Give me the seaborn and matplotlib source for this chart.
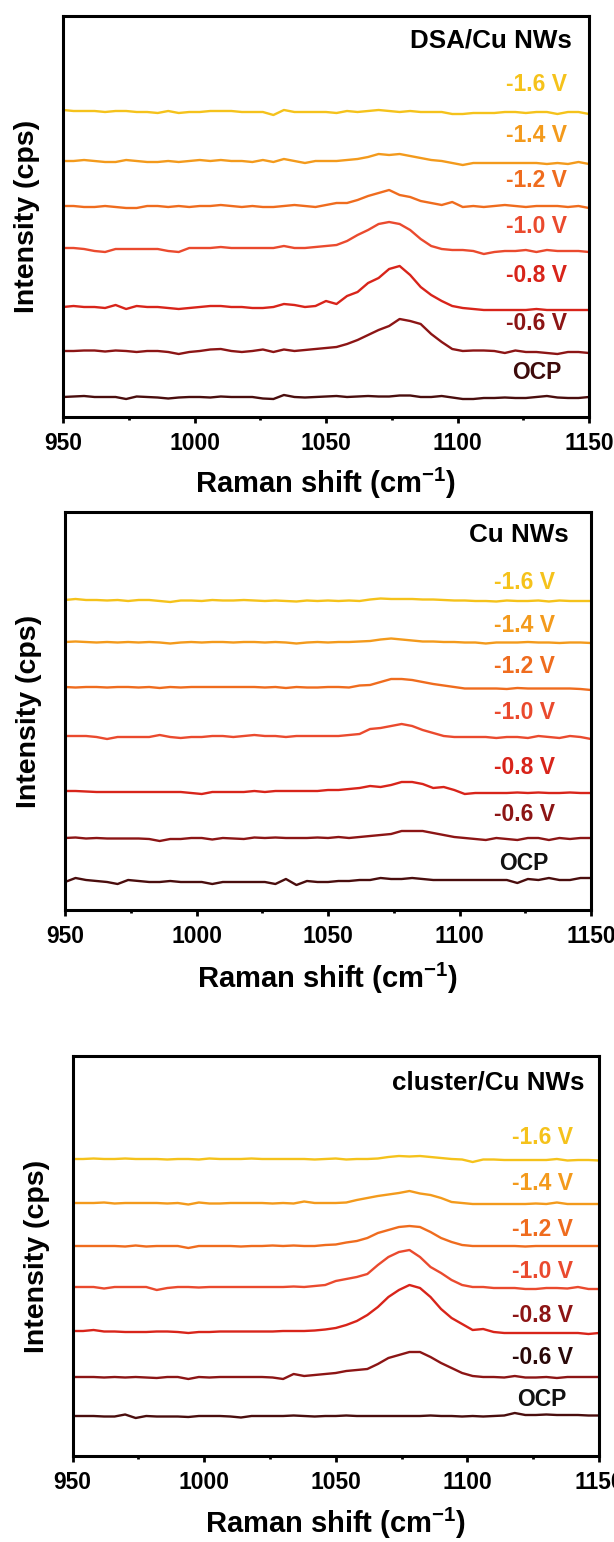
import numpy as np
import pandas as pd
import matplotlib
matplotlib.use("Agg")
import matplotlib.pyplot as plt
import seaborn as sns
from matplotlib.ticker import MultipleLocator

# ---------------- data ----------------
shift = np.arange(950, 1151, 4)  # Raman shift grid (cm-1)
potentials = ["OCP", "-0.6 V", "-0.8 V", "-1.0 V", "-1.2 V", "-1.4 V", "-1.6 V"]
line_colors = ["#4a0d0d", "#8c1515", "#d8241a", "#ea4a2e", "#ef6c1e", "#f39a1c", "#f5c21b"]

# DSA/Cu NWs (relative intensity, a.u.)
dsa_ocp = [0, 0.5, 1, 0, 0, 0, -2, 0.5, 0, -0.5,
           -1.5, -0.5, 0, 0, -0.5, 0.5, 0, 0, 0, -1.5,
           -2, 2, 0, -0.5, 0, 0.5, 1, 0, 0.5, 1,
           0.5, 0.5, 1.5, 1.5, 0, 0, 1, -0.5, -2, -2,
           -1, -1, -0.5, -1, -1, 0, 1, -0.5, -1, -1,
           0]
dsa_06 = [0, 0, 0.5, 0.5, -0.5, 0.5, 0, -1, 0, 0,
          -1, -3, -1, 0, 1.5, 2, 0, -1, 0, 1.5,
          -1, 1.5, 0, 1, 2, 3, 4, 7, 11, 16,
          21, 25, 32, 30, 27, 17, 9, 2, 0, 0.5,
          0.5, 0, -2, 0.5, -1, -1, -2, -3, -1, -1,
          -2]
dsa_08 = [0, 1, 0, 0, -1, 2, -2, 1, 0, 0,
          -1, -2, -1, 0, 1, 1, 0, 0, -1, -1,
          0, 3, 2, 0, 1, 6, 3, 11, 15, 24,
          29, 38, 41, 32, 20, 12, 6, 1, -1, -2,
          -3, -3, -3, -3, -3, -2, -3, -3, -3, -3,
          -3]
dsa_10 = [0, 0, -1, -3, -4, -1, -1, -1, -1, -1,
          -3, -4, 0, 0, 0, 1, 0, 0, 0, 0,
          0, 2, 0, 0, 1, 2, 3, 7, 13, 18,
          24, 26, 24, 18, 9, 2, -1, -2, -2, -3,
          -6, -4, -3, -3, -2, -4, -2, -3, -3, -3,
          -4]
dsa_12 = [0, 0, -1, -1, 0, -1, -2, -2, 0, 0,
          -1, 0, -1, 0, 0, 1, 0, -1, 0, -1,
          -1, 0, 1, 0, -1, 1, 3, 3, 6, 10,
          13, 16, 11, 9, 5, 3, 1, 4, -1, 0,
          -1, 0, 1, 0, -1, 0, 0, 0, -1, 0,
          -2]
dsa_14 = [0, 0, 1, 0, -1, -1, 1, 0, -1, -1,
          0, -1, 0, 1, 0, 1, 0, 0, -1, 1,
          -1, 2, 0, -2, 0, 0, 0, 1, 2, 4,
          7, 6, 7, 5, 3, 1, 0, -2, -4, -2,
          -2, -2, -2, -2, -2, -2, -3, -2, -3, -1,
          -3]
dsa_16 = [0, -1, -1, -1, -2, -1, -1, -2, -2, -3,
          -1, -3, -2, -2, -1, -1, -1, -2, -2, -2,
          -5, 0, -2, -2, -2, -2, -3, -1, -2, -1,
          0, -1, -2, -1, -2, -2, -2, -4, -4, -3,
          -3, -3, -2, -2, -3, -2, -2, -4, -2, -2,
          -4]
dsa_offsets = [20, 66, 110, 169, 211, 256, 307]

# Cu NWs
cu_ocp = [0, 4, 2, 1, 0, -2, 2, 1, 0, 0,
          1, 0, 0, 0, -2, 0, 0, 0, 0, 0,
          -2, 3, -3, 1, 0, 0, 1, 1, 2, 2,
          4, 3, 3, 4, 3, 2, 2, 2, 2, 2,
          2, 2, 2, -1, 3, 2, 4, 2, 2, 4,
          4]
cu_06 = [0, 0.5, -0.5, 0, -0.5, -0.5, -0.5, -0.5, -1, -3,
         -1, -1, 0, 0, -1.5, 0, -0.5, -1, 0.5, 0,
         0.5, 0, 0, 0, 0.5, 0, 1, 0, 1, 2,
         3, 4, 7, 7, 7, 5, 3, 1, 0, -1,
         -2, 0, -1, -2, 0, 0, -2, 0, -1, 0,
         0]
cu_08 = [0, 0, -0.5, -1, -1, -1, -1, -1, -1, -1,
         -1, -1, -2, -3, -1, -1, -1, -1, 0, -1,
         0, 0, 0, 0, 0, 1, 1, 2, 3, 5,
         4, 6, 9, 9, 7, 3, 4, 1, -3, -2,
         -2, -2, -2, -1.5, -2, -1.5, -2, -2, -1.5, -2,
         -2]
cu_10 = [0, 0, 0, -1, -3, -1, -1, -1, -1, 1,
         -1, -2, -1, -1, 0, 0, -1, 0, 1, 0,
         0, -1, 0, 0, 0, 0, 0, 1, 2, 7,
         8, 10, 12, 10, 6, 3, 0, -1, -1, -1,
         -1, -2, -1, -1, -2, 0, -1, -2, 0, -1,
         -3]
cu_12 = [0, -0.5, 0, 0, -0.5, 0, 0, -0.5, 0, -1,
         0, -0.5, 0, 0, 0, 0, 0, 0, 0, -0.5,
         0, -1, 0, -0.5, -0.5, 0, 0, -0.5, 1.5, 2,
         5, 8, 8, 7, 5, 3, 1.5, 0, -1.5, -1.5,
         -1.5, -1.5, -2, -1, -1.5, -1.5, -1.5, -1.5, -1.5, -2,
         -3]
cu_14 = [0, 0.5, 0, -0.5, 0, -0.5, 0, -0.5, 0, -0.5,
         -1.5, -0.5, 0, -0.5, 0, 0, -0.5, 0, 0, -0.5,
         0, -0.5, -1.5, -0.5, 0, -0.5, 0, 0, 0.5, 1,
         2.5, 3.5, 2.5, 1.5, 0.5, 0.5, 0, 0, -0.5, -0.5,
         -1.5, -0.5, -0.5, -0.5, 0, -0.5, -0.5, -1, -0.5, -0.5,
         -1]
cu_16 = [0, 1, 0, 0, -0.5, 0, -1, 0, 0, -1,
         -2, -0.5, -0.5, -1, 0, -0.5, -0.5, 0, -0.5, -1,
         -0.5, -1, -1.5, -0.5, -1, -0.5, -1, -0.5, -1, 0.5,
         1.5, 1, 1, 1, 0.5, 0.5, 0, -0.5, -0.5, -1,
         -1, -1.5, -0.5, -1, -1, -0.5, -1.5, -0.5, -1, -1,
         -1]
cu_offsets = [28, 72, 119, 174, 223, 268, 310]

# cluster/Cu NWs
cl_ocp = [0, 0, 0, -0.5, -0.5, 1.5, -2, 0, -0.5, -0.5,
          -0.5, -1, 0, 0, 0, -0.5, -1.5, 0, 0, 0,
          0, 0.5, 0, -0.5, 0, 0, 0.5, 0, 0, 0,
          0, 0, 0, 0, 0.5, 0, 0, -0.5, 0, -0.5,
          0, 0.5, 3, 1, 1, 1.5, 1, 1, 1, 0.5,
          0.5]
cl_06 = [0, 0, 0, -0.5, 0, -0.5, 0, -0.5, -1, 0,
         0, -2, 0, -0.5, 0, 0, 0, 0, 0, -0.5,
         -2, 3, 1, 2, 3, 4, 6, 7, 8, 13,
         19, 22, 25, 25, 20, 14, 9, 4, 1, 0,
         0, -0.5, 1, -0.5, -0.5, 0, -1, 0, 0, 0,
         0]
cl_08 = [0, 0, 1, -0.5, -0.5, -1, -1, -1, -0.5, -0.5,
         -1, -2, -1, -1, -0.5, -0.5, -0.5, -0.5, -0.5, -0.5,
         0, 0, 0, 0.5, 1.5, 3, 6, 10, 16, 24,
         34, 41, 46, 43, 34, 22, 13, 7, 1, 2,
         -1, -2, -2, -2, -2, -2, -2, -2, -2, -3,
         -2]
cl_10 = [0, 0, 0, -1.5, 0, 0, 0, 0, -3, -1,
         0, 0, -0.5, 0, 0, 0, 0, 0, 0, 0,
         0, 0.5, 0, 1, 2, 6, 8, 10, 13, 22,
         30, 35, 37, 30, 20, 14, 7, 2, 0, 0,
         -1, -1, -1, -2, -2, -1, -1, -1.5, 0, -2,
         -2]
cl_12 = [0, 0, 0, 0, 0, -0.5, 0.5, -0.5, 0, 0,
         0, -2, 0, 0, 0, 0, -0.5, 0, 0, 0.5,
         0, 0.5, 0, 0, 1, 1.5, 3.5, 5, 8, 13,
         16, 19, 20, 19, 14, 8, 4, 1, 0, 0,
         0, 0, 0, -0.5, 0, 0, 0, 0, 0, 0,
         0]
cl_14 = [0, 0, 0, 0.5, -0.5, 0, 0, 0, 0, -0.5,
         0, -1.5, 0.5, -0.5, -0.5, 0, 0, 0, 0, -0.5,
         0, -0.5, 1.5, 0, 0, 0, 0.5, 3, 5, 7,
         8.5, 10, 12, 9.5, 8, 5, 1, 0, -1, -1,
         -1, -1, -1, -1, -0.5, -1, 0.5, -1, -1, -1,
         -1]
cl_16 = [0, 0, 0.5, 0, 0, 0.5, 0, 0, 0, -0.5,
         0, 0, -0.5, 0.5, 0, 0, 0, 0.5, 0, 0,
         0, 0, 0, -0.5, 0, 0.5, -0.5, 0, 0, 0.5,
         2, 3, 2.5, 3, 2, 1, 0, -0.5, -3, -0.5,
         -0.5, -1, -1, -1, -1, -1, 0, -1.5, -1, -1,
         -1.5]
cl_offsets = [40, 79, 125, 169, 210, 253, 297]

titles = ["DSA/Cu NWs", "Cu NWs", "cluster/Cu NWs"]
label_colors = [
    ["#3d0b0b", "#8c1515", "#d8241a", "#ea4a2e", "#ef6c1e", "#f39a1c", "#f5c21b"],
    ["#111111", "#8c1515", "#d8241a", "#ea4a2e", "#ef6c1e", "#f39a1c", "#f5c21b"],
    ["#111111", "#2a0808", "#8c1515", "#ea4a2e", "#ef6c1e", "#f39a1c", "#f5c21b"],
]

# ---------------- style ----------------
sns.set_theme(style="ticks")
plt.rcParams["font.family"] = ["Liberation Sans", "DejaVu Sans"]
plt.rcParams["font.weight"] = "bold"
plt.rcParams["text.color"] = "black"
plt.rcParams["axes.labelcolor"] = "black"
plt.rcParams["xtick.color"] = "black"
plt.rcParams["mathtext.fontset"] = "custom"
plt.rcParams["mathtext.rm"] = "Liberation Sans:bold"
plt.rcParams["mathtext.bf"] = "Liberation Sans:bold"
plt.rcParams["mathtext.it"] = "Liberation Sans:bold"

fig = plt.figure(figsize=(6.14, 15.42), dpi=100)
W, H = 614, 1542

# layout in pixels: left, right, top, bottom
boxes = [(63, 589, 16, 417), (65, 591, 512, 910), (72.5, 599, 1056, 1456)]
label_x = [0.901, 0.873, 0.892]
label_y = [
    [0.112, 0.234, 0.354, 0.476, 0.591, 0.703, 0.828],
    [0.118, 0.239, 0.359, 0.495, 0.611, 0.716, 0.824],
    [0.1425, 0.2475, 0.3525, 0.46, 0.5675, 0.6825, 0.7975],
]
title_pos = [(0.968, 0.940), (0.958, 0.942), (0.973, 0.9325)]
ylab_x = [-0.068, -0.069, -0.067]
xlab_y = [-0.165, -0.171, -0.1675]

panels = [
    ([dsa_ocp, dsa_06, dsa_08, dsa_10, dsa_12, dsa_14, dsa_16], dsa_offsets),
    ([cu_ocp, cu_06, cu_08, cu_10, cu_12, cu_14, cu_16], cu_offsets),
    ([cl_ocp, cl_06, cl_08, cl_10, cl_12, cl_14, cl_16], cl_offsets),
]

palette = dict(zip(potentials, line_colors))

for i, ((spectra, offsets), (l, r, t, b)) in enumerate(zip(panels, boxes)):
    ax = fig.add_axes([l / W, 1 - b / H, (r - l) / W, (b - t) / H])
    rows = []
    for pot, spec, off in zip(potentials, spectra, offsets):
        assert len(spec) == len(shift)
        for xv, yv in zip(shift, spec):
            rows.append((pot, xv, yv + off))
    df = pd.DataFrame(rows, columns=["potential", "shift", "intensity"])
    sns.lineplot(data=df, x="shift", y="intensity", hue="potential",
                 palette=palette, estimator=None, sort=False, legend=False,
                 linewidth=1.7, ax=ax)
    ax.set_xlim(950, 1150)
    ax.set_ylim(0, b - t)
    ax.set_yticks([])
    ax.xaxis.set_major_locator(MultipleLocator(50))
    ax.xaxis.set_minor_locator(MultipleLocator(25))
    ax.tick_params(axis="x", which="major", direction="out", length=4.5, width=2,
                   labelsize=16.5, pad=6, colors="black")
    ax.tick_params(axis="x", which="minor", direction="out", length=2.5, width=2,
                   colors="black")
    for lab in ax.get_xticklabels():
        lab.set_fontweight("bold")
    for sp in ax.spines.values():
        sp.set_linewidth(2.2)
        sp.set_color("black")
    ax.set_xlabel("Raman shift (cm$^{\\mathbf{-1}}$)", fontsize=21, fontweight="bold",
                  va="center", color="black")
    ax.xaxis.set_label_coords(0.5, xlab_y[i])
    ax.set_ylabel("Intensity (cps)", fontsize=20.5, fontweight="bold", va="center",
                  color="black")
    ax.yaxis.set_label_coords(ylab_x[i], 0.5)
    for pot, col, yy in zip(potentials, label_colors[i], label_y[i]):
        ax.text(label_x[i], yy, pot, transform=ax.transAxes, ha="center", va="center",
                fontsize=16.5, fontweight="bold", color=col)
    ax.text(title_pos[i][0], title_pos[i][1], titles[i], transform=ax.transAxes,
            ha="right", va="center", fontsize=18.7, fontweight="bold", color="black")

fig.savefig("out.png", dpi=100)
